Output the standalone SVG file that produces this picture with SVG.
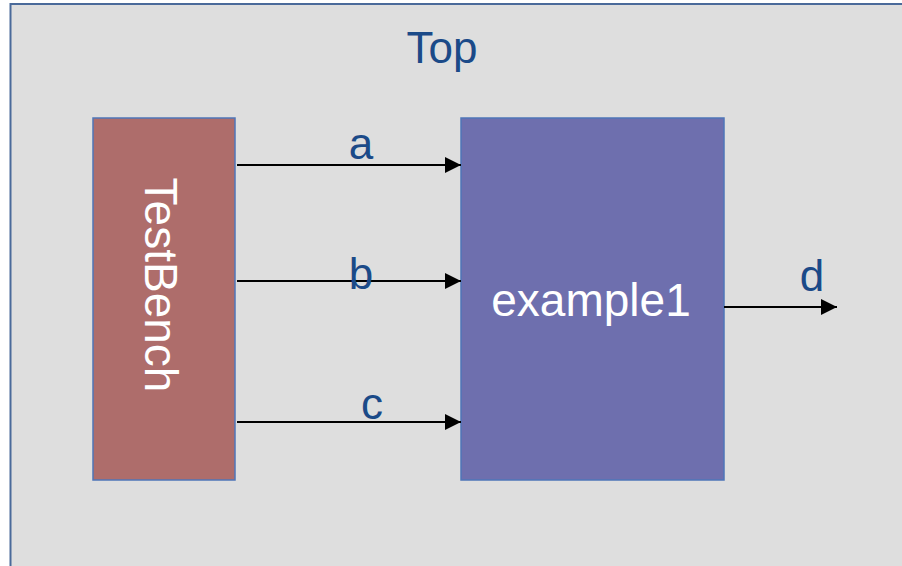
<svg xmlns="http://www.w3.org/2000/svg" width="902" height="566" viewBox="0 0 902 566">
  <defs>
    <style>
      .label { font-family: "Liberation Sans", Arial, sans-serif; font-size: 44px; fill: #1b4a88; }
      .inner { font-family: "Liberation Sans", Arial, sans-serif; font-size: 46px; fill: #ffffff; }
      .block { stroke: #4f76b8; stroke-width: 1.5; }
      .wire { stroke: #000000; stroke-width: 2; fill: none; marker-end: url(#arrow); }
    </style>
    <marker id="arrow" markerWidth="8" markerHeight="8" refX="8" refY="4" orient="auto" markerUnits="strokeWidth">
      <path d="M0,0 L8,4 L0,8 Z" fill="#000000"/>
    </marker>
  </defs>

  <rect width="902" height="566" fill="#ffffff"/>

  <!-- Top-level module frame -->
  <g id="top">
    <rect x="10.5" y="4" width="900" height="570" fill="#dedede" stroke="#4a6a9a" stroke-width="2"/>
    <text class="label" x="442" y="63" text-anchor="middle">Top</text>
  </g>

  <!-- Stimulus block -->
  <g id="testbench">
    <rect class="block" x="93" y="118" width="142" height="362" fill="#ae6d6b"/>
    <text class="inner" transform="translate(145,285) rotate(90)" text-anchor="middle">TestBench</text>
  </g>

  <!-- Device under test -->
  <g id="example1">
    <rect class="block" x="461" y="118" width="263" height="362" fill="#6e6fae"/>
    <text class="inner" x="591" y="316" text-anchor="middle">example1</text>
  </g>

  <!-- Signals -->
  <g id="connectors">
    <line class="wire" x1="237" y1="165" x2="461" y2="165"/>
    <line class="wire" x1="237" y1="281" x2="461" y2="281"/>
    <line class="wire" x1="237" y1="422" x2="461" y2="422"/>
    <line class="wire" x1="724" y1="307" x2="837" y2="307"/>
    <text class="label" x="361" y="159" text-anchor="middle">a</text>
    <text class="label" x="361" y="289" text-anchor="middle">b</text>
    <text class="label" x="372" y="419" text-anchor="middle">c</text>
    <text class="label" x="812" y="291" text-anchor="middle">d</text>
  </g>
</svg>
